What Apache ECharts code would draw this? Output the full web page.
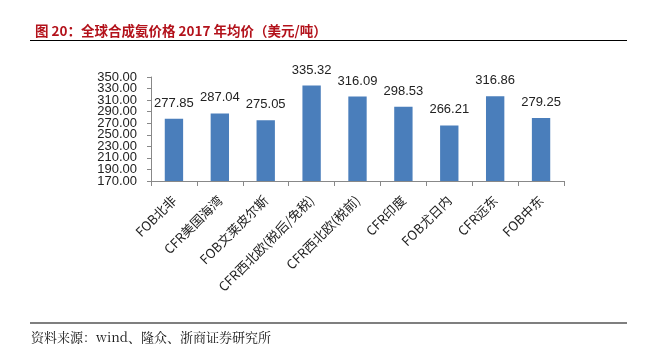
<!DOCTYPE html>
<html>
<head>
<meta charset="utf-8">
<script src="https://cdn.jsdelivr.net/npm/echarts@6/dist/echarts.min.js"></script>
<style>
  html, body { margin: 0; padding: 0; background: #fff; }
  #main { width: 656px; height: 351px; }
</style>
</head>
<body>
<div id="main"></div>
<script>
var categories = ['FOB北非', 'CFR美国海湾', 'FOB文莱皮尔斯', 'CFR西北欧(税后/免税)', 'CFR西北欧(税前)', 'CFR印度', 'FOB尤日内', 'CFR远东', 'FOB中东'];
var prices = [277.85, 287.04, 275.05, 335.32, 316.09, 298.53, 266.21, 316.86, 279.25];
var yMin = 170;
var yMax = 350;
var yStep = 20;

var myChart = echarts.init(document.getElementById('main'));

var yLabelStyle = {
    color: '#222',
    fontSize: 13,
    margin: 14,
    fontFamily: 'Liberation Sans'
};

// two y axes on the same scale: the first one only prints the end labels,
// the second one the inner ones (ECharts drops a label next to min/max when they touch)
var option = {
    backgroundColor: '#fff',
    animation: false,
    title: {
        text: '图 20：全球合成氨价格 2017 年均价（美元/吨）',
        left: 30,
        top: 19,
        textStyle: {
            color: '#b3121b',
            fontSize: 13.5,
            fontWeight: 'bold',
            fontFamily: 'Noto Sans CJK SC'
        }
    },
    graphic: [
        {type: 'line', shape: {x1: 30, y1: 40.5, x2: 627, y2: 40.5}, style: {stroke: '#000', lineWidth: 1.2}},
        {type: 'line', shape: {x1: 30, y1: 323, x2: 627, y2: 323}, style: {stroke: '#000', lineWidth: 1.2}},
        {type: 'text', left: 31, top: 331, style: {text: '资料来源：wind、隆众、浙商证券研究所', fill: '#111', font: '13px "Noto Serif CJK SC", "Liberation Serif", serif'}}
    ],
    grid: {
        left: 151,
        right: 92,
        top: 77,
        bottom: 170
    },
    xAxis: {
        type: 'category',
        data: categories,
        axisLine: {lineStyle: {color: '#888'}},
        axisTick: {show: true, length: 5, lineStyle: {color: '#888'}},
        axisLabel: {
            rotate: 45,
            interval: 0,
            color: '#222',
            fontSize: 13,
            margin: 17,
            fontFamily: 'Noto Sans CJK SC'
        }
    },
    yAxis: [
        {
            type: 'value',
            position: 'left',
            min: yMin,
            max: yMax,
            interval: yStep,
            splitLine: {show: false},
            axisLine: {show: true, lineStyle: {color: '#888'}},
            axisTick: {show: true, length: 4, lineStyle: {color: '#888'}},
            axisLabel: Object.assign({}, yLabelStyle, {
                showMinLabel: true,
                showMaxLabel: true,
                formatter: function (v) { return (v === yMin || v === yMax) ? v.toFixed(2) : ''; }
            })
        },
        {
            type: 'value',
            position: 'left',
            offset: 0,
            min: yMin,
            max: yMax,
            interval: yStep,
            splitLine: {show: false},
            axisLine: {show: false},
            axisTick: {show: false},
            axisLabel: Object.assign({}, yLabelStyle, {
                showMinLabel: false,
                showMaxLabel: false,
                formatter: function (v) { return v.toFixed(2); }
            })
        }
    ],
    series: [
        {
            type: 'bar',
            yAxisIndex: 0,
            data: prices,
            barWidth: '40%',
            itemStyle: {color: '#4a7ebb'},
            label: {
                show: true,
                position: 'top',
                distance: 9,
                color: '#222',
                fontSize: 13,
                fontFamily: 'Liberation Sans',
                formatter: function (p) { return p.value.toFixed(2); }
            }
        }
    ]
};

myChart.setOption(option);
</script>
</body>
</html>
